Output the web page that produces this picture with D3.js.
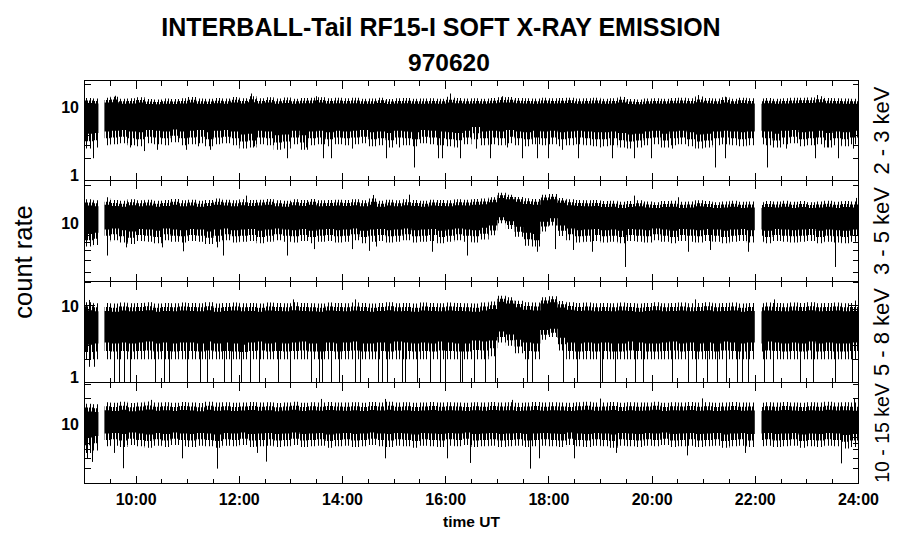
<!DOCTYPE html>
<html><head><meta charset="utf-8">
<script src="https://cdn.jsdelivr.net/npm/d3@7"></script>
<style>body{margin:0;background:#fff}svg{display:block}</style>
</head><body>
<svg id="c" width="900" height="548"></svg>
<script>
// ---------------- data ----------------
const title1 = "INTERBALL-Tail RF15-I SOFT X-RAY EMISSION";
const title2 = "970620";
const yTitle = "count rate";
const xTitle = "time UT";
const bandLabels = ["2 - 3 keV", "3 - 5 keV", "5 - 8 keV", "10 - 15 keV"];
const xDomain = [9, 24];                 // hours UT
const xTickHours = [10, 12, 14, 16, 18, 20, 22, 24];
const xTickLabels = ["10:00", "12:00", "14:00", "16:00", "18:00", "20:00", "22:00", "24:00"];
const binMinutes = 10;                   // envelope bins start at 9:00
const gaps = [[9.27, 9.39], [21.99, 22.12]]; // no data
const yDomains = [[1, 22.5], [3.4, 22.1], [1, 20.5], [2, 31.3]];
const yLabelTicks = [[1, 10], [10], [1, 10], [10]];

// ---- 2 - 3 keV: outer tips (tipHi/tipLo) and solid core (coreHi/coreLo), 10-min bins
const tipHi1 = [13.0,12.8,13.2,13.6,12.7,12.9,13.4,12.6,12.5,12.8,12.6,12.9,13.5,12.8,12.7,13.0,12.8,13.5,12.9,13.8,12.9,13.4,12.8,13.3,12.7,13.0,13.1,13.4,12.9,13.1,
  12.9,13.1,12.7,12.8,13.2,12.6,12.9,13.0,12.7,12.8,12.9,12.7,13.6,13.0,12.8,12.9,12.7,13.0,13.4,13.5,13.0,12.9,12.8,13.1,12.9,13.0,13.2,12.8,12.9,13.1,
  12.7,12.9,13.5,12.6,12.5,12.8,12.9,12.7,13.0,13.1,12.9,13.7,13.0,12.8,13.4,12.7,13.2,12.9,12.8,13.0,12.7,12.9,13.1,13.2,13.3,13.8,13.0,12.9,12.8,12.7];
const coreHi1 = [11.2,11.0,11.3,11.4,10.9,11.0,11.3,10.8,10.7,10.9,10.8,11.0,11.3,10.9,10.8,11.1,10.9,11.3,11.0,11.4,11.0,11.3,10.9,11.2,10.9,11.1,11.1,11.3,11.0,11.1,
  11.0,11.1,10.9,10.9,11.2,10.8,11.0,11.1,10.9,10.9,11.0,10.9,11.3,11.1,10.9,11.0,10.9,11.1,11.3,11.3,11.1,11.0,10.9,11.1,11.0,11.1,11.2,10.9,11.0,11.1,
  10.9,11.0,11.3,10.8,10.7,10.9,11.0,10.9,11.1,11.1,11.0,11.4,11.1,10.9,11.3,10.9,11.2,11.0,10.9,11.1,10.9,11.0,11.1,11.2,11.2,11.4,11.1,11.0,10.9,10.9];
const coreLo1 = [4.3,4.4,4.6,4.7,4.8,4.6,4.5,4.8,4.7,4.6,4.9,4.6,4.7,4.8,4.5,4.7,4.8,4.6,4.2,4.3,4.7,4.6,4.1,4.2,4.7,4.1,4.6,4.7,4.5,4.7,
  4.6,4.7,4.8,4.5,4.6,4.4,4.7,4.6,4.5,4.8,4.7,4.6,4.5,4.4,4.7,5.3,4.6,4.7,4.6,4.8,4.6,4.5,4.7,4.6,4.7,4.5,4.6,4.7,4.6,4.5,
  4.5,4.6,4.4,4.2,4.3,4.6,4.7,4.3,4.6,4.7,4.5,4.2,4.3,4.6,4.7,4.6,4.5,4.6,4.7,4.6,4.3,4.7,4.8,4.5,4.6,4.7,4.4,4.6,4.5,4.7];
const tipLo1 = [2.7,2.8,3.0,3.1,3.2,3.0,2.9,3.2,3.1,3.0,3.3,3.0,3.1,3.2,2.9,3.1,3.2,3.0,2.7,2.8,3.1,3.0,2.6,2.7,3.1,2.6,3.0,3.1,2.9,3.1,
  3.0,3.1,3.2,2.9,3.0,2.8,3.1,3.0,2.9,3.2,3.1,3.0,2.9,2.8,3.1,3.6,3.0,3.1,3.0,3.2,3.0,2.9,3.1,3.0,3.1,2.9,3.0,3.1,3.0,2.9,
  2.9,3.0,2.8,2.7,2.8,3.0,3.1,2.8,3.0,3.1,2.9,2.7,2.8,3.0,3.1,3.0,2.9,3.0,3.1,3.0,2.8,3.1,3.2,2.9,3.0,3.1,2.8,3.0,2.9,3.1];
const p1Down = [[9.18,2.0],[9.9,2.8],[10.16,2.5],[10.41,2.6],[10.97,2.6],[11.2,2.9],[11.44,2.6],[12.3,2.9],[12.94,2.0],[13.3,2.8],[13.64,2.0],[13.79,2.0],[14.2,2.7],[14.85,2.0],[15.1,2.8],[15.4,1.5],[15.87,2.0],[15.93,2.0],[16.29,2.0],[16.6,2.7],[16.87,2.0],[17.2,2.8],[17.48,2.0],[17.77,2.0],[18.0,2.0],[18.26,2.6],[18.58,2.0],[19.0,2.8],[19.23,2.0],[19.65,2.0],[19.99,2.0],[20.4,2.7],[20.9,2.8],[21.23,1.5],[21.42,2.0],[22.24,1.5],[22.6,2.7],[23.17,2.0],[23.4,2.8],[23.62,2.0],[23.9,2.7]];
const p1Up = [[9.6,14.0],[12.23,15.0],[13.5,13.8],[16.09,15.0],[17.1,13.8],[19.39,13.6],[20.9,14.3],[21.42,13.6],[23.2,14.3]];

// ---- 3 - 5 keV
const tipHi2 = [15.6,15.3,15.8,15.4,15.2,15.6,15.3,15.5,15.2,15.4,15.7,15.3,15.5,15.2,15.4,15.8,15.5,15.3,15.6,15.4,15.5,15.7,15.3,15.2,15.6,15.4,15.7,15.3,15.4,15.5,
  15.4,15.6,15.3,15.8,15.2,15.5,15.3,15.6,15.4,15.2,15.5,15.4,15.3,15.6,15.5,15.7,15.8,16.2,17.6,17.0,16.3,15.9,15.7,17.0,17.2,16.0,15.6,15.4,15.3,15.4,
  15.1,15.2,14.9,15.1,15.3,15.0,14.8,15.1,15.2,14.9,15.0,15.3,15.1,14.8,15.0,15.2,14.9,15.0,14.8,15.1,15.0,15.2,14.9,15.1,14.8,15.0,15.2,14.9,15.1,15.0];
const coreHi2 = [13.9,13.7,14.1,13.8,13.6,14.0,13.7,13.9,13.6,13.8,14.1,13.7,13.9,13.6,13.8,14.1,13.9,13.7,14.0,13.8,13.9,14.1,13.7,13.6,14.0,13.8,14.1,13.7,13.8,13.9,
  13.8,14.0,13.7,14.1,13.6,13.9,13.7,14.0,13.8,13.6,13.9,13.8,13.7,14.0,13.9,14.1,14.2,14.8,16.0,15.6,14.9,14.3,14.1,15.3,15.6,14.6,14.0,13.8,13.7,13.8,
  13.5,13.6,13.3,13.5,13.7,13.4,13.3,13.5,13.6,13.3,13.4,13.7,13.5,13.3,13.4,13.6,13.3,13.4,13.3,13.5,13.4,13.6,13.3,13.5,13.3,13.4,13.6,13.3,13.5,13.4];
const coreLo2 = [8.2,8.4,8.9,9.1,8.8,8.6,9.0,8.9,8.7,9.1,8.9,8.8,9.0,8.9,8.6,8.9,9.1,8.8,8.9,9.0,8.7,8.9,9.1,8.9,8.8,9.0,8.7,8.9,9.0,8.8,
  8.9,9.1,8.7,8.9,9.0,8.8,8.9,9.1,8.8,8.9,9.0,8.7,8.9,9.1,8.9,8.8,9.2,9.6,11.2,10.4,9.4,8.4,8.2,10.3,11.0,9.6,9.1,8.8,8.9,9.0,
  8.8,8.9,8.7,9.0,8.9,8.8,9.1,8.9,8.7,9.0,8.9,8.8,9.0,8.9,8.7,8.9,9.0,8.8,8.9,8.7,9.0,8.9,8.8,8.9,9.0,8.7,8.9,8.8,8.7,8.9];
const tipLo2 = [6.5,6.7,7.1,7.3,7.0,6.8,7.2,7.1,6.9,7.3,7.1,7.0,7.2,7.1,6.8,7.1,7.3,7.0,7.1,7.2,6.9,7.1,7.3,7.1,7.0,7.2,6.9,7.1,7.2,7.0,
  7.1,7.3,6.9,7.1,7.2,7.0,7.1,7.3,7.0,7.1,7.2,6.9,7.1,7.3,7.1,7.0,7.4,8.0,10.0,9.0,7.8,6.6,6.5,8.6,9.6,7.9,7.3,7.0,7.1,7.2,
  7.0,7.1,6.9,7.2,7.1,7.0,7.3,7.1,6.9,7.2,7.1,7.0,7.2,7.1,6.9,7.1,7.2,7.0,7.1,6.9,7.2,7.1,7.0,7.1,7.2,6.9,7.1,7.0,6.9,7.1];
const p2Down = [[9.44,5.5],[9.81,6.4],[10.52,6.4],[10.92,5.95],[11.58,6.4],[11.7,5.5],[12.94,5.5],[13.46,6.2],[14.19,6.2],[14.53,6.0],[14.65,6.5],[15.74,5.9],[16.43,5.5],[17.77,5.9],[18.13,6.2],[18.48,6.1],[18.84,5.9],[19.48,4.45],[20.71,5.9],[21.13,6.1],[21.87,5.9],[23.55,4.45]];
const p2Up = [[9.45,16.2],[12.13,16.7],[14.6,16.9],[15.3,17.0],[19.65,16.7],[20.52,16.2],[23.97,16.0]];

// ---- 5 - 8 keV
const tipHi3 = [11.0,10.7,10.8,10.6,10.9,10.7,10.8,11.0,10.6,10.8,10.7,10.9,10.8,10.7,11.0,10.6,10.8,10.9,10.7,10.8,10.6,10.9,10.8,10.7,11.0,10.8,10.7,10.6,10.9,10.8,
  10.7,10.9,10.8,10.6,10.8,11.0,10.7,10.8,10.6,10.9,10.8,10.7,10.9,10.8,10.7,10.6,10.9,11.3,13.4,12.8,11.5,11.0,10.9,12.8,13.2,11.4,11.0,10.8,10.9,10.7,
  10.8,10.7,10.9,10.8,10.6,10.8,11.0,10.7,10.8,10.9,10.7,10.8,11.0,10.7,10.8,10.9,10.6,10.8,10.7,10.9,10.8,10.7,10.9,10.8,11.0,10.7,10.8,10.9,10.7,10.8];
const coreHi3 = [8.7,8.4,8.5,8.3,8.6,8.4,8.5,8.7,8.3,8.5,8.4,8.6,8.5,8.4,8.7,8.3,8.5,8.6,8.4,8.5,8.3,8.6,8.5,8.4,8.7,8.5,8.4,8.3,8.6,8.5,
  8.4,8.6,8.5,8.3,8.5,8.7,8.4,8.5,8.3,8.6,8.5,8.4,8.6,8.5,8.4,8.3,8.6,9.0,11.2,10.6,9.5,8.8,8.6,10.6,11.0,9.4,8.8,8.5,8.6,8.4,
  8.5,8.4,8.6,8.5,8.3,8.5,8.7,8.4,8.5,8.6,8.4,8.5,8.7,8.4,8.5,8.6,8.3,8.5,8.4,8.6,8.5,8.4,8.6,8.5,8.7,8.4,8.5,8.6,8.4,8.5];
const coreLo3 = [3.1,3.2,3.3,3.2,3.3,3.2,3.3,3.4,3.2,3.3,3.2,3.3,3.3,3.2,3.4,3.2,3.3,3.2,3.1,3.3,3.4,3.2,3.3,3.2,3.3,3.4,3.2,3.2,3.3,3.2,
  3.3,3.4,3.2,3.2,3.3,3.2,3.4,3.3,3.2,3.3,3.2,3.4,3.3,3.2,3.2,3.5,3.4,3.5,4.6,4.2,3.6,3.3,3.2,4.8,5.0,3.8,3.3,3.2,3.3,3.2,
  3.3,3.2,3.2,3.4,3.3,3.2,3.2,3.3,3.4,3.2,3.3,3.2,3.3,3.2,3.4,3.3,3.2,3.3,3.2,3.4,3.3,3.2,3.3,3.2,3.4,3.2,3.3,3.2,3.2,3.3];
const tipLo3 = [2.0,2.0,2.0,2.0,2.0,2.0,2.0,2.0,2.0,2.0,2.0,2.0,2.0,2.0,2.0,2.0,2.0,2.0,2.0,2.0,2.0,2.0,2.0,2.0,2.0,2.0,2.0,2.0,2.0,2.0,
  2.0,2.0,2.0,2.0,2.0,2.0,2.0,2.0,2.0,2.0,2.0,2.0,2.0,2.0,2.0,2.0,2.0,2.2,3.3,3.0,2.4,2.0,2.0,3.6,3.9,2.6,2.0,2.0,2.0,2.0,
  2.0,2.0,2.0,2.0,2.0,2.0,2.0,2.0,2.0,2.0,2.0,2.0,2.0,2.0,2.0,2.0,2.0,2.0,2.0,2.0,2.0,2.0,2.0,2.0,2.0,2.0,2.0,2.0,2.0,2.0];
const p3Down = [[9.1,1.6],[9.2,1.6],[9.58,1],[9.68,1],[9.78,1],[9.90,1],[10.38,1],[10.55,1],[10.65,1],[11.0,1],[11.25,1],[11.39,1],[11.71,1],[11.84,1],[12.04,1],[12.21,1],[12.39,1],[12.75,1],[13.0,1],[13.39,1],[13.55,1],[13.62,1],[13.78,1],[13.94,1],[14.25,1],[14.35,1],[14.70,1],[14.77,1],[14.87,1],[15.16,1],[15.22,1],[15.45,1],[15.70,1],[15.90,1],[15.99,1],[16.29,1],[16.32,1],[16.55,1],[16.77,1],[16.96,1],[17.58,1],[17.68,1],[18.29,1],[18.56,1],[19.0,1],[19.03,1],[19.29,1],[19.68,1],[19.84,1],[20.39,1],[20.71,1],[20.87,1],[21.07,1],[21.26,1],[21.45,1],[21.65,1],[21.75,1],[21.87,1],[22.17,1],[22.36,1],[22.88,1],[23.13,1],[23.55,1],[23.88,1]];
const p3Up = [[9.1,11.8],[13.05,12.0],[14.25,12.0],[20.84,12.0],[22.38,12.0],[23.95,11.6]];

// ---- 10 - 15 keV
const tipHi4 = [17.6,17.3,18.3,18.0,18.5,17.9,18.2,18.6,18.1,18.3,18.0,18.4,18.2,17.9,18.5,18.1,18.3,18.0,18.2,18.4,18.1,18.3,17.9,18.2,18.5,18.0,18.3,18.1,18.4,18.2,
  18.1,18.3,18.0,18.4,18.2,18.5,18.1,18.3,18.0,18.2,18.4,18.1,18.3,18.2,18.0,18.3,18.1,18.4,18.2,18.3,18.0,18.2,18.4,18.1,18.3,18.2,18.0,18.3,18.5,18.1,
  18.2,18.4,18.0,18.3,18.1,18.2,18.5,18.0,18.3,18.2,18.4,18.1,18.3,18.0,18.2,18.4,18.1,18.2,18.0,18.3,18.1,18.4,18.2,18.0,18.3,18.1,18.5,18.2,18.3,18.1];
const coreHi4 = [14.2,14.0,14.7,14.4,14.9,14.3,14.6,15.0,14.5,14.7,14.4,14.8,14.6,14.3,14.9,14.5,14.7,14.4,14.6,14.8,14.5,14.7,14.3,14.6,14.9,14.4,14.7,14.5,14.8,14.6,
  14.5,14.7,14.4,14.8,14.6,14.9,14.5,14.7,14.4,14.6,14.8,14.5,14.7,14.6,14.4,14.7,14.5,14.8,14.6,14.7,14.4,14.6,14.8,14.5,14.7,14.6,14.4,14.7,14.9,14.5,
  14.6,14.8,14.4,14.7,14.5,14.6,14.9,14.4,14.7,14.6,14.8,14.5,14.7,14.4,14.6,14.8,14.5,14.6,14.4,14.7,14.5,14.8,14.6,14.4,14.7,14.5,14.9,14.6,14.7,14.5];
const coreLo4 = [7.0,7.3,7.8,7.9,7.7,8.0,7.8,7.6,7.9,7.7,8.0,7.8,7.7,7.9,7.8,7.6,7.9,7.8,8.0,7.7,7.8,7.9,7.7,7.8,8.0,7.7,7.8,7.9,7.6,7.8,
  7.9,7.7,7.8,8.0,7.8,7.7,7.9,7.8,7.6,7.9,7.8,7.7,7.9,7.8,8.0,7.7,7.8,7.9,7.7,7.8,7.9,7.7,7.8,7.9,7.8,7.7,8.0,7.8,7.7,7.9,
  7.8,7.6,7.9,7.8,7.7,7.9,7.8,8.0,7.7,7.8,7.9,7.7,7.8,7.9,7.6,7.8,7.9,7.7,7.8,7.9,7.7,7.8,7.9,7.6,7.8,7.7,7.9,7.8,7.5,7.7];
const tipLo4 = [4.6,4.9,5.5,5.6,5.4,5.7,5.5,5.3,5.6,5.4,5.7,5.5,5.4,5.6,5.5,5.3,5.6,5.5,5.7,5.4,5.5,5.6,5.4,5.5,5.7,5.4,5.5,5.6,5.3,5.5,
  5.6,5.4,5.5,5.7,5.5,5.4,5.6,5.5,5.3,5.6,5.5,5.4,5.6,5.5,5.7,5.4,5.5,5.6,5.4,5.5,5.6,5.4,5.5,5.6,5.5,5.4,5.7,5.5,5.4,5.6,
  5.5,5.3,5.6,5.5,5.4,5.6,5.5,5.7,5.4,5.5,5.6,5.4,5.5,5.6,5.3,5.5,5.6,5.4,5.5,5.6,5.4,5.5,5.6,5.3,5.5,5.4,5.6,5.5,5.2,5.4];
const p4Down = [[9.05,4.0],[9.15,3.6],[9.58,4.6],[9.76,3.03],[10.89,3.97],[11.57,3.0],[12.36,4.6],[12.52,3.63],[14.83,3.97],[16.04,3.97],[16.48,3.5],[17.64,3.0],[17.82,3.97],[18.5,3.97],[19.31,4.6],[20.68,4.3],[21.81,4.6],[23.68,3.46]];
const p4Up = [[10.3,19.5],[13.59,20.0],[14.83,20.0],[17.3,19.5],[19.0,20.2],[20.97,20.3],[23.93,20.3]];

const panelTipHi = [tipHi1, tipHi2, tipHi3, tipHi4];
const panelTipLo = [tipLo1, tipLo2, tipLo3, tipLo4];
const panelCoreHi = [coreHi1, coreHi2, coreHi3, coreHi4];
const panelCoreLo = [coreLo1, coreLo2, coreLo3, coreLo4];
const panelDown = [p1Down, p2Down, p3Down, p4Down];
const panelUp = [p1Up, p2Up, p3Up, p4Up];

// ---------------- drawing ----------------
const FONT = "'Liberation Sans', Arial, Helvetica, sans-serif";
const labelSizes = [22, 22, 22, 19.5];
const svg = d3.select("#c");
const L = 84, R = 858, TOP = 80, BOT = 483;
const x = d3.scaleLinear().domain(xDomain).range([L + 0.5, R + 0.5]);
const edges = d3.range(5).map(i => Math.floor(TOP + i * (BOT - TOP) / 4) + 0.5);
const defs = svg.append("defs");

// fuzzy-edge textures: thin vertical strokes (dense near the core, sparse outside)
function pattern(id, cols) {
  const pt = defs.append("pattern").attr("id", id).attr("patternUnits", "userSpaceOnUse")
    .attr("width", 17).attr("height", 20);
  cols.forEach(c => pt.append("rect").attr("x", c).attr("y", 0).attr("width", 1).attr("height", 20).attr("fill", "#000"));
}
pattern("fuzzDense", [0, 1, 2, 4, 5, 7, 8, 9, 11, 12, 14, 15]);
pattern("fuzzSparse", [1, 5, 8, 12, 15]);

// data segments = domain minus gaps
const segs = [];
let s0 = xDomain[0];
gaps.forEach(g => { segs.push([s0, g[0]]); s0 = g[1]; });
segs.push([s0, xDomain[1]]);

const px = t => Math.round(x(t) - 0.5) + 0.5;
const binT = i => xDomain[0] + i * binMinutes / 60;

panelTipHi.forEach((tipHi, p) => {
  const tipLo = panelTipLo[p], coreHi = panelCoreHi[p], coreLo = panelCoreLo[p];
  const top = edges[p], bot = edges[p + 1];
  const y = d3.scaleLog().domain(yDomains[p]).range([bot, top]);
  const g = svg.append("g");
  const cid = "clip" + p;
  const cp = defs.append("clipPath").attr("id", cid);
  segs.forEach(sg => cp.append("rect")
    .attr("x", x(sg[0])).attr("y", top)
    .attr("width", x(sg[1]) - x(sg[0])).attr("height", bot - top));
  const dg = g.append("g").attr("clip-path", `url(#${cid})`);

  const n = coreHi.length;
  const rows = d3.range(n + 1).map(i => {
    const k = Math.min(i, n - 1);
    return {
      t: i < n ? binT(i) : xDomain[1],
      th: tipHi[k], tl: tipLo[k], ch: coreHi[k], cl: coreLo[k],
      mh: Math.sqrt(tipHi[k] * coreHi[k]), ml: Math.sqrt(tipLo[k] * coreLo[k])
    };
  });
  const band = (a, b) => d3.area().curve(d3.curveStepAfter)
    .x(d => x(d.t)).y0(d => y(d[b])).y1(d => y(d[a]));
  // outer tips (sparse), inner tips (dense), then solid core
  dg.append("path").datum(rows).attr("d", band("th", "tl")).attr("fill", "url(#fuzzSparse)");
  dg.append("path").datum(rows).attr("d", band("mh", "ml")).attr("fill", "url(#fuzzDense)");
  dg.append("path").datum(rows).attr("d", band("ch", "cl")).attr("fill", "#000");

  const mid = t => {
    const i = Math.min(n - 1, Math.floor((t - xDomain[0]) * 60 / binMinutes));
    return Math.sqrt(coreHi[i] * coreLo[i]);
  };
  dg.selectAll("line.sp").data(panelDown[p].concat(panelUp[p])).join("line")
    .attr("x1", d => px(d[0])).attr("x2", d => px(d[0]))
    .attr("y1", d => y(mid(d[0]))).attr("y2", d => y(d[1]))
    .attr("stroke", "#000").attr("stroke-width", 1);

  // frame
  g.append("rect").attr("x", x(xDomain[0])).attr("y", top)
    .attr("width", x(xDomain[1]) - x(xDomain[0])).attr("height", bot - top)
    .attr("fill", "none").attr("stroke", "#000").attr("stroke-width", 1)
    .attr("shape-rendering", "crispEdges");

  // x ticks (top & bottom of each panel)
  const xt = d3.range(xDomain[0] * 2, xDomain[1] * 2 + 1).map(v => v / 2);
  xt.forEach(h => {
    const len = (h % 2 === 0) ? 8 : 5;
    const xx = px(h);
    g.append("line").attr("x1", xx).attr("x2", xx).attr("y1", top).attr("y2", top + len)
      .attr("stroke", "#000").attr("shape-rendering", "crispEdges");
    g.append("line").attr("x1", xx).attr("x2", xx).attr("y1", bot).attr("y2", bot - len)
      .attr("stroke", "#000").attr("shape-rendering", "crispEdges");
  });

  // y ticks (left & right)
  y.ticks().forEach(v => {
    const major = Math.abs(Math.log10(v) - Math.round(Math.log10(v))) < 1e-9;
    const len = major ? 10 : 6;
    const yy = Math.round(y(v) - 0.5) + 0.5;
    g.append("line").attr("x1", x(xDomain[0])).attr("x2", x(xDomain[0]) + len).attr("y1", yy).attr("y2", yy)
      .attr("stroke", "#000").attr("shape-rendering", "crispEdges");
    g.append("line").attr("x1", x(xDomain[1])).attr("x2", x(xDomain[1]) - len).attr("y1", yy).attr("y2", yy)
      .attr("stroke", "#000").attr("shape-rendering", "crispEdges");
  });

  // y tick labels
  yLabelTicks[p].forEach(v => {
    g.append("text").attr("x", 79).attr("y", Math.min(y(v) + 6, bot))
      .attr("text-anchor", "end").attr("font-family", FONT).attr("font-weight", "bold")
      .attr("font-size", 16).text(v);
  });

  // band label on the right
  svg.append("text").attr("transform", `translate(889,${(top + bot) / 2}) rotate(-90)`)
    .attr("text-anchor", "middle").attr("font-family", FONT).attr("font-size", labelSizes[p])
    .text(bandLabels[p]);
});

// x tick labels
xTickHours.forEach((h, i) => {
  svg.append("text").attr("x", x(h)).attr("y", 505).attr("text-anchor", "middle")
    .attr("font-family", FONT).attr("font-weight", "bold").attr("font-size", 16)
    .text(xTickLabels[i]);
});
svg.append("text").attr("x", (x(xDomain[0]) + x(xDomain[1])) / 2).attr("y", 527)
  .attr("text-anchor", "middle").attr("font-family", FONT).attr("font-weight", "bold")
  .attr("font-size", 15.5).text(xTitle);

// titles
svg.append("text").attr("x", 441).attr("y", 36).attr("text-anchor", "middle")
  .attr("font-family", FONT).attr("font-weight", "bold").attr("font-size", 25).text(title1);
svg.append("text").attr("x", 449).attr("y", 71).attr("text-anchor", "middle")
  .attr("font-family", FONT).attr("font-weight", "bold").attr("font-size", 24.5).text(title2);
svg.append("text").attr("transform", "translate(32,262) rotate(-90)")
  .attr("text-anchor", "middle").attr("font-family", FONT).attr("font-size", 25.5).text(yTitle);
</script>
</body></html>
